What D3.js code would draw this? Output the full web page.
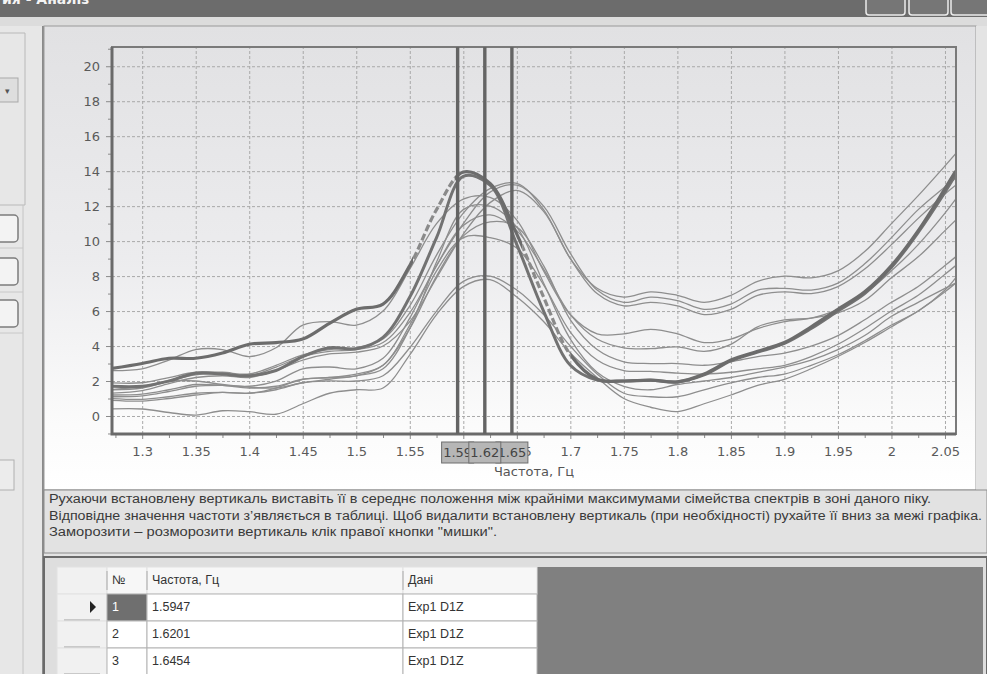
<!DOCTYPE html>
<html>
<head>
<meta charset="utf-8">
<script src="https://cdn.jsdelivr.net/npm/d3@7"></script>
<style>
  body { margin: 0; background: #e6e6e6; overflow: hidden; }
  svg { display: block; }
</style>
</head>
<body>
<div id="app"></div>
<script>
// frequency grid the spectra were read at
const freqs = [1.27, 1.30, 1.325, 1.35, 1.375, 1.40, 1.425, 1.45, 1.475, 1.50, 1.525, 1.55, 1.575, 1.60, 1.625, 1.65,
    1.675, 1.70, 1.725, 1.75, 1.775, 1.80, 1.825, 1.85, 1.875, 1.90, 1.925, 1.95, 1.975, 2.00, 2.025, 2.05, 2.06];

// the two highlighted spectra
const spectrumA = [2.7, 3.0, 3.3, 3.3, 3.6, 4.1, 4.2, 4.4, 5.3, 6.1, 6.4, 8.6, 11.8, 13.95, 13.3, 10.4, 6.8, 3.5, 2.1, 2.0,
    2.05, 1.95, 2.4, 3.2, 3.7, 4.2, 5.1, 6.1, 7.1, 8.6, 10.6, 13.0, 14.0];
const spectrumB = [1.7, 1.7, 2.0, 2.45, 2.4, 2.3, 2.6, 3.4, 3.9, 3.85, 4.5, 6.8, 10.2, 13.7, 13.2, 9.8, 6.0, 2.9, 2.05, 2.0,
    2.05, 1.95, 2.35, 3.15, 3.65, 4.15, 5.0, 6.0, 7.0, 8.5, 10.5, 12.8, 13.8];

// rest of the family
const spectrumU1 = [1.9, 1.9, 2.2, 2.5, 2.5, 2.4, 2.9, 3.5, 3.8, 3.9, 4.4, 6.3, 9.2, 11.6, 13.0, 13.3, 11.8, 9.0, 7.3, 6.8,
    7.1, 6.9, 6.5, 6.9, 7.7, 8.0, 7.9, 8.3, 9.4, 11.0, 12.6, 14.3, 15.0];
const spectrumU2 = [1.5, 1.6, 2.0, 2.35, 2.4, 2.3, 2.8, 3.4, 3.7, 3.8, 4.2, 5.9, 8.6, 11.0, 12.8, 13.2, 12.0, 9.3, 7.2, 6.5,
    6.8, 6.6, 6.1, 6.4, 7.2, 7.3, 7.2, 7.6, 8.7, 10.2, 11.8, 13.1, 13.6];
const spectrumU3 = [1.3, 1.45, 1.85, 2.2, 2.3, 2.2, 2.6, 3.2, 3.55, 3.65, 4.0, 5.4, 7.9, 10.4, 12.2, 12.9, 11.7, 9.0, 7.0, 6.3,
    6.5, 6.3, 5.8, 6.1, 6.9, 7.1, 7.0, 7.4, 8.4, 9.8, 11.3, 12.7, 13.2];
const spectrumM1 = [2.6, 2.7, 3.2, 3.8, 3.8, 3.4, 3.9, 5.2, 5.4, 5.2, 6.0, 8.4, 11.0, 12.4, 12.5, 11.2, 8.3, 5.8, 4.7, 4.7,
    4.95, 4.7, 4.2, 4.4, 5.0, 5.4, 5.6, 6.1, 7.0, 8.3, 9.8, 11.6, 12.4];
const spectrumM2 = [1.1, 1.15, 1.4, 1.7, 1.75, 1.7, 2.0, 2.7, 2.8, 2.7, 3.3, 5.6, 8.6, 10.9, 11.5, 10.6, 8.4, 5.8, 4.4, 3.9,
    3.85, 3.95, 3.7, 4.1, 5.1, 5.5, 5.6, 5.9, 6.6, 7.9, 9.1, 10.6, 11.2];
const spectrumM3 = [1.0, 0.95, 1.1, 1.3, 1.35, 1.3, 1.6, 2.1, 2.2, 2.3, 2.9, 5.0, 8.0, 10.3, 11.1, 10.8, 8.6, 5.5, 3.8, 3.1,
    3.0, 3.0, 2.9, 3.1, 3.4, 3.6, 4.0, 4.6, 5.5, 6.5, 7.4, 8.6, 9.1];
const spectrumM4 = [1.2, 1.25, 1.5, 1.8, 1.75, 1.6, 1.7, 2.1, 2.2, 2.4, 2.9, 5.2, 8.3, 10.2, 10.2, 9.6, 7.5, 4.8, 3.2, 2.6,
    2.55, 2.45, 2.4, 2.5, 2.7, 2.9, 3.4, 4.1, 5.0, 6.0, 6.9, 8.1, 8.6];
const spectrumM5 = [1.5, 1.7, 2.0, 2.0, 1.8, 1.65, 1.6, 1.9, 2.1, 2.3, 2.7, 5.0, 8.8, 11.8, 12.0, 10.8, 7.6, 4.4, 2.5, 1.7,
    1.5, 1.8, 2.0, 2.2, 2.5, 2.8, 3.2, 3.8, 4.6, 5.7, 6.5, 7.3, 7.6];
const spectrumM6 = [0.9, 0.85, 1.0, 1.2, 1.35, 1.3, 1.5, 1.9, 2.0, 2.0, 2.3, 3.9, 6.0, 7.7, 8.0, 7.2, 5.8, 4.0, 2.4, 1.3,
    1.1, 1.1, 1.5, 1.9, 2.2, 2.4, 2.9, 3.5, 4.3, 5.2, 6.0, 7.2, 7.9];
const spectrumM7 = [0.4, 0.4, 0.2, 0.05, 0.3, 0.25, 0.1, 0.7, 1.3, 1.5, 1.6, 3.5, 5.8, 7.4, 7.8, 6.8, 5.4, 3.6, 2.2, 1.0,
    0.5, 0.25, 0.7, 1.2, 1.75, 2.1, 2.7, 3.4, 4.2, 5.1, 6.0, 7.1, 7.6];

const thinSpectra = [spectrumU1, spectrumU2, spectrumU3, spectrumM1, spectrumM2, spectrumM3,
    spectrumM4, spectrumM5, spectrumM6, spectrumM7];

// frequency ranges where spectrum A is drawn dashed
const dashedRanges = [[1.553, 1.592], [1.655, 1.70]];

// placed verticals
const markerFreqs = [1.5947, 1.6201, 1.6454];
const markerLabels = ["1.59", "1.62", "1.65"];

const xTicks = [1.3, 1.35, 1.4, 1.45, 1.5, 1.55, 1.6, 1.65, 1.7, 1.75, 1.8, 1.85, 1.9, 1.95, 2.0, 2.05];
const xMinorTicks = [1.275, 1.325, 1.375, 1.425, 1.475, 1.525, 1.575, 1.625, 1.675, 1.725, 1.775, 1.825, 1.875,
    1.925, 1.975, 2.025];
const yTicks = [0, 2, 4, 6, 8, 10, 12, 14, 16, 18, 20];
const yMinorTicks = [-1, 1, 3, 5, 7, 9, 11, 13, 15, 17, 19, 21];

const xTitle = "Частота, Гц";
const hintLines = [
    "Рухаючи встановлену вертикаль виставіть її в середнє положення між крайніми максимумами сімейства спектрів в зоні даного піку.",
    "Відповідне значення частоти з’являється в таблиці. Щоб видалити встановлену вертикаль (при необхідності) рухайте її вниз за межі графіка.",
    "Заморозити – розморозити вертикаль клік правої кнопки \"мишки\"."
];
const tableHeader = ["", "№", "Частота, Гц", "Дані"];
const tableData = ["Exp1 D1Z", "Exp1 D1Z", "Exp1 D1Z"];


class SpectrumView {

    constructor() {
        this.width = 987;
        this.height = 674;
        this.plot = {left: 112, top: 47, right: 956, bottom: 434};

        this.x = d3.scaleLinear().domain([1.2718, 2.0603]).range([this.plot.left, this.plot.right]);
        this.y = d3.scaleLinear().domain([-1.03, 21.1]).range([this.plot.bottom, this.plot.top]);

        this.svg = d3.select("#app").append("svg")
            .attr("width", this.width)
            .attr("height", this.height);
        this.defs = this.svg.append("defs");
    }

    /**
     * window chrome: title bar, left strip
     */
    drawFrame() {
        let svg = this.svg;

        svg.append("rect").attr("x", 0).attr("y", 0).attr("width", this.width).attr("height", this.height)
            .attr("fill", "#e3e3e3");

        // title bar, its caption is scrolled off the top
        svg.append("rect").attr("x", 0).attr("y", 0).attr("width", this.width).attr("height", 17)
            .attr("fill", "#6c6c6c");
        svg.append("text").attr("x", 2).attr("y", 4)
            .attr("fill", "#f4f4f4").attr("font-family", "DejaVu Sans").attr("font-size", 14)
            .attr("font-weight", "bold").text("ия - Аналіз");
        [866, 909, 951].forEach(function (bx, i) {
            svg.append("rect").attr("x", bx).attr("y", -5).attr("width", i === 2 ? 42 : 39).attr("height", 20)
                .attr("rx", 3).attr("fill", "#767676").attr("stroke", "#ececec").attr("stroke-width", 1.5);
        });
        svg.append("rect").attr("x", 0).attr("y", 17).attr("width", this.width).attr("height", 9)
            .attr("fill", "#dcdcdc");

        // left strip with cut-off controls
        let side = svg.append("g");
        side.append("rect").attr("x", 0).attr("y", 26).attr("width", 43).attr("height", 648).attr("fill", "#e7e7e7");
        side.append("path").attr("d", "M0,33 H25 V205 H0").attr("fill", "none").attr("stroke", "#b9b9b9");
        side.append("rect").attr("x", -4).attr("y", 78).attr("width", 22).attr("height", 24)
            .attr("fill", "#dedede").attr("stroke", "#a9a9a9");
        side.append("text").attr("x", 5).attr("y", 94).attr("font-size", 9).attr("fill", "#555").text("▾");
        side.append("line").attr("x1", 23).attr("x2", 23).attr("y1", 205).attr("y2", 674).attr("stroke", "#c4c4c4");
        [215, 258, 300].forEach(function (by) {
            side.append("rect").attr("x", -8).attr("y", by).attr("width", 26).attr("height", 27).attr("rx", 4)
                .attr("fill", "#f3f3f3").attr("stroke", "#7c7c7c").attr("stroke-width", 1.5);
        });
        [248, 292, 333].forEach(function (ly) {
            side.append("line").attr("x1", 0).attr("x2", 23).attr("y1", ly).attr("y2", ly).attr("stroke", "#c8c8c8");
        });
        side.append("rect").attr("x", -2).attr("y", 460).attr("width", 16).attr("height", 30)
            .attr("fill", "#ececec").attr("stroke", "#b0b0b0");
        side.append("line").attr("x1", 43).attr("x2", 43).attr("y1", 26).attr("y2", 674)
            .attr("stroke", "#8a8a8a").attr("stroke-width", 2);
    }

    /**
     * the chart panel with spectra and placed verticals
     */
    drawPlot() {
        let x = this.x, y = this.y, p = this.plot;

        let grad = this.defs.append("linearGradient").attr("id", "panelGrad")
            .attr("x1", 0).attr("y1", 0).attr("x2", 0).attr("y2", 1);
        grad.append("stop").attr("offset", "0%").attr("stop-color", "#e1e1e3");
        grad.append("stop").attr("offset", "50%").attr("stop-color", "#ececee");
        grad.append("stop").attr("offset", "86%").attr("stop-color", "#fbfbfb");
        grad.append("stop").attr("offset", "100%").attr("stop-color", "#ffffff");

        this.svg.append("rect").attr("x", 44).attr("y", 26).attr("width", 932).attr("height", 464)
            .attr("fill", "url(#panelGrad)").attr("stroke", "#9a9a9a");
        this.svg.append("rect").attr("x", 976).attr("y", 26).attr("width", 11).attr("height", 464)
            .attr("fill", "#e4e4e4");

        this.defs.append("clipPath").attr("id", "plotClip").append("rect")
            .attr("x", p.left).attr("y", p.top).attr("width", p.right - p.left).attr("height", p.bottom - p.top);

        // grid
        let grid = this.svg.append("g");
        grid.append("g").attr("transform", "translate(0," + p.bottom + ")")
            .call(d3.axisBottom(x).tickValues(xTicks).tickSize(-(p.bottom - p.top)).tickFormat(""));
        grid.append("g").attr("transform", "translate(" + p.left + ",0)")
            .call(d3.axisLeft(y).tickValues(yTicks).tickSize(-(p.right - p.left)).tickFormat(""));
        grid.selectAll(".domain").remove();
        grid.selectAll("line").attr("stroke", "#a9a9a9").attr("stroke-dasharray", "3,2").attr("stroke-width", 1);

        // curves
        let line = d3.line()
            .x((d, i) => x(freqs[i]))
            .y(d => y(d))
            .curve(d3.curveCatmullRom.alpha(0.5));

        let curves = this.svg.append("g").attr("clip-path", "url(#plotClip)");
        curves.selectAll("path.thin").data(thinSpectra).join("path")
            .attr("class", "thin")
            .attr("d", line)
            .attr("fill", "none")
            .attr("stroke", "#8e8e8e")
            .attr("stroke-width", 1.3);

        curves.append("path").attr("d", line(spectrumB))
            .attr("fill", "none").attr("stroke", "#727272").attr("stroke-width", 3);

        // A: solid outside dashedRanges, dashed inside
        let solidClip = this.defs.append("clipPath").attr("id", "solidClip");
        let dashClip = this.defs.append("clipPath").attr("id", "dashClip");
        let edges = [x.domain()[0]];
        dashedRanges.forEach(function (r) { edges.push(r[0], r[1]); });
        edges.push(x.domain()[1]);
        for (let i = 0; i < edges.length - 1; i++) {
            let target = (i % 2 === 0) ? solidClip : dashClip;
            target.append("rect").attr("x", x(edges[i])).attr("y", p.top)
                .attr("width", x(edges[i + 1]) - x(edges[i])).attr("height", p.bottom - p.top);
        }
        curves.append("path").attr("d", line(spectrumA)).attr("clip-path", "url(#solidClip)")
            .attr("fill", "none").attr("stroke", "#6c6c6c").attr("stroke-width", 3.2);
        curves.append("path").attr("d", line(spectrumA)).attr("clip-path", "url(#dashClip)")
            .attr("fill", "none").attr("stroke", "#8a8a8a").attr("stroke-width", 3.2)
            .attr("stroke-dasharray", "7,3");

        // axes
        let font = "DejaVu Sans";
        let xAxis = this.svg.append("g").attr("transform", "translate(0," + p.bottom + ")")
            .call(d3.axisBottom(x).tickValues(xTicks).tickSize(5).tickFormat(d => String(+d.toFixed(2))));
        let xMinor = this.svg.append("g").attr("transform", "translate(0," + p.bottom + ")")
            .call(d3.axisBottom(x).tickValues(xMinorTicks).tickSize(4).tickFormat(""));
        let yAxis = this.svg.append("g").attr("transform", "translate(" + p.left + ",0)")
            .call(d3.axisLeft(y).tickValues(yTicks).tickSize(6).tickPadding(6));
        let yMinor = this.svg.append("g").attr("transform", "translate(" + p.left + ",0)")
            .call(d3.axisLeft(y).tickValues(yMinorTicks.filter(v => v > -1.03 && v < 21.1)).tickSize(4).tickFormat(""));
        [xAxis, xMinor, yAxis, yMinor].forEach(function (a) {
            a.select(".domain").remove();
            a.selectAll("line").attr("stroke", "#8a8a8a");
            a.selectAll("text").attr("font-family", font).attr("font-size", 13).attr("fill", "#5a5a5a");
        });
        xAxis.selectAll("text").attr("y", 13);

        // frame of the plot area
        this.svg.append("rect").attr("x", p.left).attr("y", p.top)
            .attr("width", p.right - p.left).attr("height", p.bottom - p.top)
            .attr("fill", "none").attr("stroke", "#7a7a7a").attr("stroke-width", 2);
        this.svg.append("path").attr("d", "M" + p.left + "," + p.top + " V" + p.bottom + " H" + p.right)
            .attr("fill", "none").attr("stroke", "#6a6a6a").attr("stroke-width", 3);

        // placed verticals
        this.svg.append("g").selectAll("line").data(markerFreqs).join("line")
            .attr("x1", d => x(d)).attr("x2", d => x(d))
            .attr("y1", p.top).attr("y2", p.bottom)
            .attr("stroke", "#646464").attr("stroke-width", 3.4);

        // their labels, the middle one on top
        let order = [0, 2, 1];
        let tags = this.svg.append("g").selectAll("g").data(order).join("g")
            .attr("transform", i => "translate(" + x(markerFreqs[i]) + ",0)");
        tags.append("rect").attr("x", -16).attr("y", 442).attr("width", 32).attr("height", 21)
            .attr("fill", "#b6b6b6").attr("stroke", "#6e6e6e");
        tags.append("text").attr("x", 0).attr("y", 457).attr("text-anchor", "middle")
            .attr("font-family", font).attr("font-size", 13).attr("fill", "#444")
            .text(i => markerLabels[i]);

        this.svg.append("text").attr("x", (p.left + p.right) / 2).attr("y", 476)
            .attr("text-anchor", "middle").attr("font-family", font).attr("font-size", 13)
            .attr("fill", "#555").text(xTitle);
    }

    /**
     * instruction text under the chart
     */
    drawHint() {
        let g = this.svg.append("g");
        g.append("rect").attr("x", 44).attr("y", 490).attr("width", 943).attr("height", 63)
            .attr("fill", "#e2e2e2").attr("stroke", "#8c8c8c");
        let widths = [882, 933, 448];
        g.selectAll("text").data(hintLines).join("text")
            .attr("x", 49).attr("y", (d, i) => 503 + i * 16.5)
            .attr("textLength", (d, i) => widths[i]).attr("lengthAdjust", "spacingAndGlyphs")
            .attr("font-family", "Liberation Sans Narrow, Liberation Sans").attr("font-size", 12)
            .attr("fill", "#3a3a3a").text(d => d);
    }

    /**
     * table with the frequencies of the placed verticals
     */
    drawTable() {
        let g = this.svg.append("g");
        g.append("rect").attr("x", 44).attr("y", 557).attr("width", 943).attr("height", 120)
            .attr("fill", "#dedede").attr("stroke", "#6a6a6a").attr("stroke-width", 2);
        g.append("rect").attr("x", 537).attr("y", 567).attr("width", 446).attr("height", 110).attr("fill", "#808080");

        let cols = [{x: 57, w: 50}, {x: 107, w: 40}, {x: 147, w: 256}, {x: 403, w: 134}];
        let rowH = 27, top = 567;
        let font = "Liberation Sans Narrow, Liberation Sans";

        let rows = [tableHeader].concat(markerFreqs.map(function (f, i) {
            return ["", String(i + 1), d3.format(".4f")(f), tableData[i]];
        }));

        rows.forEach(function (row, r) {
            let ry = top + r * rowH;
            cols.forEach(function (c, ci) {
                let fill = "#ffffff";
                if (r === 0) fill = "#f7f7f7";
                if (ci === 0) fill = "#f1f1f1";
                if (r === 1 && ci === 1) fill = "#6f6f6f";
                g.append("rect").attr("x", c.x).attr("y", ry).attr("width", c.w).attr("height", rowH)
                    .attr("fill", fill).attr("stroke", (r === 0 || ci === 0) ? "#e2e2e2" : "#b4b4b4");
                if (row[ci]) {
                    g.append("text").attr("x", c.x + 5).attr("y", ry + 17)
                        .attr("font-family", font).attr("font-size", 12.5)
                        .attr("fill", (r === 1 && ci === 1) ? "#ffffff" : "#333")
                        .text(row[ci]);
                }
            });
            if (r > 0) {
                g.append("line").attr("x1", 64).attr("x2", 100).attr("y1", ry + rowH - 1).attr("y2", ry + rowH - 1)
                    .attr("stroke", "#a0a0a0");
            }
        });
        // header column separators
        g.append("line").attr("x1", 107).attr("x2", 107).attr("y1", top + 4).attr("y2", top + 23).attr("stroke", "#aaa");
        g.append("line").attr("x1", 147).attr("x2", 147).attr("y1", top + 4).attr("y2", top + 23).attr("stroke", "#aaa");
        g.append("line").attr("x1", 403).attr("x2", 403).attr("y1", top + 4).attr("y2", top + 23).attr("stroke", "#aaa");

        // current row pointer
        g.append("path").attr("d", "M90,601 L96,607 L90,613 Z").attr("fill", "#222");
    }
}

let view = new SpectrumView();
view.drawFrame();
view.drawPlot();
view.drawHint();
view.drawTable();
</script>
</body>
</html>
